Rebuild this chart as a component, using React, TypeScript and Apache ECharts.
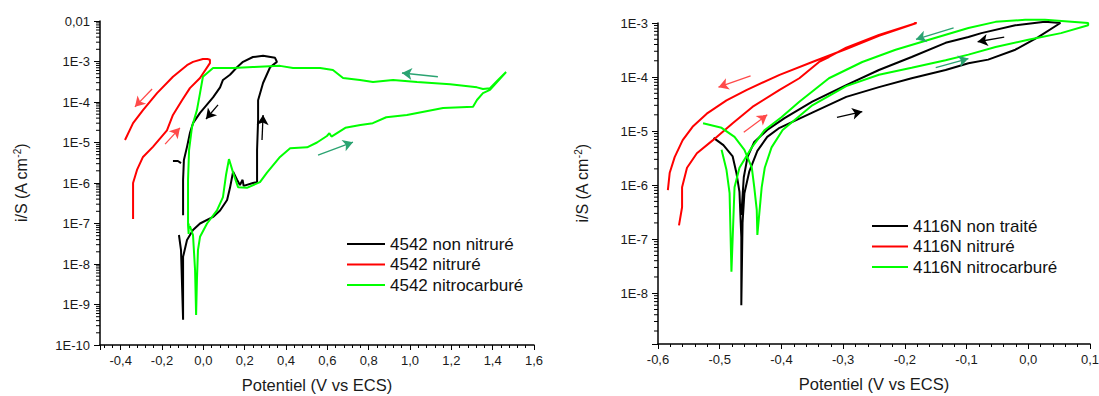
import React, { useEffect, useRef } from 'react';
import * as echarts from 'echarts';

// ---------- Left chart: 4542 ----------
const leftNames = ['4542 non nitruré', '4542 nitruré', '4542 nitrocarburé'];

const leftBlackForward = [
  [-0.118, 5.2e-8], [-0.108, 2.2e-8], [-0.103, 3.0e-9], [-0.098, 4.2e-10], [-0.098, 2.3e-9],
  [-0.098, 1.5e-8], [-0.079, 3.9e-8], [-0.05, 6.9e-8], [-0.016, 1.0e-7], [0.047, 1.45e-7],
  [0.081, 2.1e-7], [0.115, 3.8e-7], [0.129, 7.6e-7], [0.144, 1.9e-6], [0.163, 1.2e-6],
  [0.177, 8.9e-7], [0.19, 1.2e-6], [0.195, 8.5e-7], [0.24, 1.0e-6], [0.26, 1.05e-6],
  [0.26, 6.5e-6], [0.265, 3.6e-5], [0.265, 1.1e-4], [0.289, 2.95e-4], [0.323, 7.2e-4], [0.356, 9.8e-4],
];
const leftBlackReverse = [
  [0.347, 1.23e-3], [0.289, 1.38e-3], [0.24, 1.29e-3], [0.192, 9.8e-4], [0.163, 7.2e-4],
  [0.129, 4.7e-4], [0.095, 3.5e-4], [0.081, 2.3e-4], [0.047, 1.3e-4], [-0.016, 5.4e-5],
  [-0.05, 3.0e-5], [-0.065, 1.7e-5], [-0.079, 7.8e-6], [-0.094, 3.7e-6], [-0.098, 1.2e-6], [-0.098, 1.6e-7],
];
const leftBlackHook = [[-0.147, 3.5e-6], [-0.123, 3.5e-6], [-0.108, 3.1e-6]];

const leftRedForward = [
  [-0.34, 1.3e-7], [-0.34, 1.0e-6], [-0.321, 2.1e-6], [-0.292, 4.4e-6], [-0.244, 7.8e-6],
  [-0.176, 2.0e-5], [-0.147, 4.8e-5], [-0.103, 1.1e-4], [-0.065, 2.2e-4], [-0.016, 3.9e-4],
  [0.032, 9.1e-4], [0.032, 1.1e-3],
];
const leftRedReverse = [
  [0.02, 1.15e-3], [-0.002, 1.15e-3], [-0.05, 9.8e-4], [-0.079, 8.1e-4], [-0.147, 4.2e-4],
  [-0.224, 1.66e-4], [-0.292, 6.3e-5], [-0.34, 3.0e-5], [-0.379, 1.15e-5],
];

const leftGreenForward = [
  [-0.065, 8.7e-8], [-0.05, 5.2e-8], [-0.04, 7.1e-9], [-0.035, 5.5e-10], [-0.031, 4.0e-9],
  [-0.026, 2.2e-8], [-0.016, 4.7e-8], [0.018, 1.0e-7], [0.066, 2.1e-7], [0.095, 4.5e-7],
  [0.11, 1.6e-6], [0.124, 3.9e-6], [0.144, 1.8e-6], [0.168, 7.9e-7], [0.211, 7.6e-7],
  [0.274, 1.05e-6], [0.308, 1.8e-6], [0.371, 4.4e-6], [0.42, 7.2e-6], [0.502, 7.6e-6],
  [0.55, 1.0e-5], [0.598, 1.45e-5], [0.61, 1.7e-5], [0.62, 1.4e-5], [0.687, 2.3e-5],
  [0.76, 2.7e-5], [0.82, 3.0e-5], [0.885, 4.2e-5], [0.985, 4.8e-5], [1.16, 7.1e-5],
  [1.305, 7.6e-5], [1.324, 1.12e-4], [1.353, 1.66e-4], [1.387, 2.0e-4], [1.465, 5.5e-4],
];
const leftGreenReverse = [
  [1.426, 3.5e-4], [1.387, 2.2e-4], [1.353, 2.1e-4], [1.324, 2.3e-4], [1.194, 2.75e-4],
  [1.034, 3.1e-4], [0.918, 3.5e-4], [0.821, 3.1e-4], [0.758, 3.5e-4], [0.676, 3.9e-4],
  [0.627, 6.2e-4], [0.565, 6.9e-4], [0.434, 6.9e-4], [0.371, 7.8e-4], [0.24, 7.3e-4],
  [0.144, 6.9e-4], [0.047, 6.9e-4], [-0.002, 4.2e-4], [-0.016, 1.66e-4], [-0.031, 6.3e-5],
  [-0.055, 2.4e-5], [-0.069, 6.5e-6], [-0.074, 1.2e-6], [-0.074, 9.1e-8], [-0.071, 5.5e-8], [-0.071, 1.0e-7],
];

// arrows [tailV, tailI, headV, headI]
const leftRedArrows = [[-0.248, 2.1e-4, -0.331, 7.6e-5], [-0.185, 9.1e-6, -0.113, 2.3e-5]];
const leftBlackArrows = [[0.071, 8.5e-5, 0.013, 3.8e-5], [0.284, 1.15e-5, 0.289, 4.8e-5]];
const leftGreenArrows = [[1.135, 4.2e-4, 0.961, 5.2e-4], [0.555, 4.9e-6, 0.724, 1.02e-5]];

// ---------- Right chart: 4116N ----------
const rightNames = ['4116N non traité', '4116N nitruré', '4116N nitrocarburé'];

const rightBlackForward = [
  [-0.51, 7.5e-6], [-0.494, 5.5e-6], [-0.479, 3.4e-6], [-0.473, 1.7e-6], [-0.468, 7.5e-7],
  [-0.465, 1.1e-7], [-0.465, 6.0e-9], [-0.463, 2.0e-7], [-0.46, 7.1e-7], [-0.452, 1.8e-6],
  [-0.439, 4.3e-6], [-0.423, 7.8e-6], [-0.403, 1.15e-5], [-0.35, 2.2e-5], [-0.295, 4.3e-5],
  [-0.242, 6.5e-5], [-0.189, 9.5e-5], [-0.134, 1.35e-4], [-0.097, 1.8e-4], [-0.065, 2.1e-4],
  [-0.021, 3.2e-4], [0.016, 5.5e-4], [0.052, 1.0e-3],
];
const rightBlackReverse = [
  [0.027, 1.05e-3], [-0.021, 9.1e-4], [-0.076, 6.5e-4], [-0.097, 5.5e-4], [-0.134, 4.3e-4],
  [-0.189, 2.35e-4], [-0.242, 1.35e-4], [-0.295, 7.1e-5], [-0.35, 3.5e-5], [-0.395, 1.74e-5],
  [-0.423, 1.05e-5], [-0.444, 6.3e-6], [-0.455, 3.3e-6], [-0.461, 1.4e-6], [-0.465, 2.8e-7],
];

const rightRedForward = [
  [-0.566, 1.8e-7], [-0.561, 3.9e-7], [-0.561, 9.1e-7], [-0.553, 2.1e-6], [-0.537, 3.9e-6],
  [-0.511, 6.8e-6], [-0.479, 1.4e-5], [-0.447, 2.8e-5], [-0.403, 5.8e-5], [-0.371, 9.5e-5],
  [-0.339, 1.9e-4], [-0.323, 2.35e-4], [-0.295, 3.5e-4], [-0.242, 6.0e-4], [-0.181, 1.0e-3],
];
const rightRedReverse = [
  [-0.242, 5.8e-4], [-0.295, 3.3e-4], [-0.35, 1.9e-4], [-0.403, 1.1e-4], [-0.456, 5.8e-5],
  [-0.489, 3.7e-5], [-0.521, 2.1e-5], [-0.544, 1.2e-5], [-0.56, 6.8e-6], [-0.573, 3.3e-6],
  [-0.581, 1.7e-6], [-0.584, 8.1e-7],
];

const rightGreenForward = [
  [-0.527, 1.4e-5], [-0.497, 1.15e-5], [-0.476, 7.8e-6], [-0.46, 4.5e-6], [-0.448, 2.1e-6],
  [-0.444, 9.1e-7], [-0.44, 3.5e-7], [-0.439, 1.2e-7], [-0.432, 9.1e-7], [-0.427, 2.1e-6],
  [-0.416, 5.0e-6], [-0.398, 1.05e-5], [-0.35, 3.0e-5], [-0.295, 6.8e-5], [-0.242, 1.1e-4],
  [-0.189, 1.48e-4], [-0.134, 2.05e-4], [-0.097, 2.6e-4], [-0.053, 3.6e-4], [0.0, 4.9e-4],
  [0.053, 6.5e-4], [0.097, 9.1e-4],
];
const rightGreenReverse = [
  [0.097, 1.0e-3], [0.027, 1.15e-3], [-0.005, 1.15e-3], [-0.053, 1.05e-3], [-0.097, 8.1e-4],
  [-0.161, 4.9e-4], [-0.215, 3.2e-4], [-0.269, 1.9e-4], [-0.323, 9.5e-5], [-0.371, 3.5e-5],
  [-0.4, 1.8e-5], [-0.427, 1.05e-5], [-0.448, 5.0e-6], [-0.468, 2.1e-6], [-0.476, 9.1e-7],
  [-0.481, 2.5e-8], [-0.484, 7.1e-7], [-0.489, 1.9e-6], [-0.497, 4.5e-6],
];

const rightRedArrows = [[-0.45, 1.05e-4, -0.502, 6.5e-5], [-0.461, 9.5e-6, -0.423, 2.0e-5]];
const rightBlackArrows = [[-0.31, 1.8e-5, -0.269, 2.3e-5], [-0.039, 5.5e-4, -0.082, 4.5e-4]];
const rightGreenArrows = [[-0.121, 8.1e-4, -0.182, 5.0e-4], [-0.15, 1.5e-4, -0.097, 2.2e-4]];

// axis ranges / labels
const leftX = { min: -0.5, max: 1.6 };
const leftY = { min: 1e-10, max: 1e-2 };
const rightX = { min: -0.6, max: 0.1, interval: 0.1 };
const rightY = { min: 1.15e-9, max: 1e-3 };
const xTitle = 'Potentiel (V vs ECS)';

const FONT = 'Arial, "Liberation Sans", sans-serif';
const BLACK = '#000000';
const RED = '#ff0000';
const GREEN = '#00ff00';
const ARROW_RED = '#ff4a4a';
const ARROW_GREEN = '#2aa371';

function logMinorValues(min: number, max: number) {
  const out: number[] = [];
  const lo = Math.floor(Math.log10(min));
  const hi = Math.ceil(Math.log10(max));
  for (let n = lo; n < hi; n++) {
    for (let m = 2; m <= 9; m++) {
      const v = m * Math.pow(10, n);
      if (v >= min && v <= max) out.push(v);
    }
  }
  return out;
}

function minorTickSeries(idx: number, xv: number, values: number[]) {
  return {
    type: 'custom',
    xAxisIndex: idx,
    yAxisIndex: idx,
    silent: true,
    clip: false,
    z: 10,
    data: values.map((v) => [xv, v]),
    renderItem: (_p: any, api: any) => {
      const pt = api.coord([api.value(0), api.value(1)]);
      return {
        type: 'line',
        shape: { x1: pt[0] - 4, y1: pt[1], x2: pt[0], y2: pt[1] },
        style: { stroke: '#000', lineWidth: 1 },
      };
    },
  };
}

function arrowLines(arr: number[][]) {
  return arr.map((a) => [{ coord: [a[0], a[1]] }, { coord: [a[2], a[3]] }]);
}

function curve(name: string, idx: number, color: string, data: number[][], arrows?: number[][], arrowColor?: string) {
  const s: any = {
    name,
    type: 'line',
    xAxisIndex: idx,
    yAxisIndex: idx,
    data,
    showSymbol: false,
    symbol: 'none',
    clip: false,
    lineStyle: { color, width: 2 },
    itemStyle: { color },
    z: 3,
  };
  if (arrows) {
    s.markLine = {
      silent: true,
      symbol: ['none', 'arrow'],
      symbolSize: [9, 10],
      label: { show: false },
      lineStyle: { color: arrowColor, width: 1.3, type: 'solid' },
      data: arrowLines(arrows),
    };
  }
  return s;
}

function xLabel(v: number, step: number) {
  const k = v / step;
  if (Math.abs(k - Math.round(k)) > 1e-6) return '';
  if (Math.abs(v) < 1e-9) return '0,0';
  return v.toFixed(1).replace('.', ',');
}

function yLabel(v: number) {
  const l = Math.log10(v);
  const r = Math.round(l);
  if (Math.abs(l - r) > 1e-6) return '';
  if (r === -2) return '0,01';
  return '1E' + r;
}

const axisLine = { show: true, onZero: false, lineStyle: { color: '#000', width: 1.5 } };
const labelStyle = { color: '#1a1a1a', fontSize: 13, fontFamily: FONT };
const yName = '{a|i/S (A cm}{s|-2}{a|)}';
const yNameStyle = {
  rich: {
    a: { fontSize: 16, fontFamily: FONT, color: '#1a1a1a', lineHeight: 19 },
    s: { fontSize: 10, fontFamily: FONT, color: '#1a1a1a', verticalAlign: 'top', lineHeight: 19 },
  },
};
const legendText = { fontSize: 17, fontFamily: FONT, color: '#111', lineHeight: 20 };

export default function App() {
  const ref = useRef<HTMLDivElement>(null);
  useEffect(() => {
    if (!ref.current) return;
    const chart = echarts.init(ref.current, null, { renderer: 'svg' });
    const option: any = {
      animation: false,
      backgroundColor: '#ffffff',
      textStyle: { fontFamily: FONT },
      grid: [
        { left: 100, top: 21, width: 434, height: 324, show: false, outerBoundsMode: 'none' },
        { left: 658, top: 23, width: 432, height: 321, show: false, outerBoundsMode: 'none' },
      ],
      legend: [
        {
          data: leftNames,
          orient: 'vertical',
          left: 342,
          top: 229,
          itemWidth: 38,
          itemHeight: 2,
          itemGap: 0.5,
          icon: 'rect',
          selectedMode: false,
          textStyle: legendText,
        },
        {
          data: rightNames,
          orient: 'vertical',
          left: 867,
          top: 211,
          itemWidth: 36,
          itemHeight: 2,
          itemGap: 0.5,
          icon: 'rect',
          selectedMode: false,
          textStyle: legendText,
        },
      ],
      xAxis: [
        {
          type: 'value',
          gridIndex: 0,
          min: leftX.min,
          max: leftX.max,
          splitNumber: 10,
          axisLine,
          axisTick: { show: true, inside: false, length: 5, lineStyle: { color: '#000' } },
          minorTick: { show: true, splitNumber: 5, length: 3, lineStyle: { color: '#000' } },
          splitLine: { show: false },
          axisLabel: { ...labelStyle, margin: 9, formatter: (v: number) => xLabel(v, 0.2) },
          name: xTitle,
          nameLocation: 'middle',
          nameGap: 31,
          nameTextStyle: { fontSize: 16.5, fontFamily: FONT, color: '#1a1a1a' },
        },
        {
          type: 'value',
          gridIndex: 1,
          min: rightX.min,
          max: rightX.max,
          interval: rightX.interval,
          axisLine,
          axisTick: { show: true, inside: false, length: 5, lineStyle: { color: '#000' } },
          minorTick: { show: true, splitNumber: 5, length: 3, lineStyle: { color: '#000' } },
          splitLine: { show: false },
          axisLabel: { ...labelStyle, margin: 9, formatter: (v: number) => xLabel(v, 0.1) },
          name: xTitle,
          nameLocation: 'middle',
          nameGap: 31,
          nameTextStyle: { fontSize: 16.5, fontFamily: FONT, color: '#1a1a1a' },
        },
      ],
      yAxis: [
        {
          type: 'log',
          gridIndex: 0,
          logBase: 10,
          min: leftY.min,
          max: leftY.max,
          splitNumber: 8,
          axisLine,
          axisTick: { show: true, inside: false, length: 6, lineStyle: { color: '#000' } },
          splitLine: { show: false },
          axisLabel: { ...labelStyle, margin: 10, formatter: yLabel },
          name: yName,
          nameLocation: 'middle',
          nameRotate: 90,
          nameGap: 69,
          nameTextStyle: yNameStyle,
        },
        {
          type: 'log',
          gridIndex: 1,
          logBase: 10,
          min: rightY.min,
          max: rightY.max,
          splitNumber: 6,
          axisLine,
          axisTick: { show: true, inside: false, length: 6, lineStyle: { color: '#000' } },
          splitLine: { show: false },
          axisLabel: { ...labelStyle, margin: 10, formatter: yLabel },
          name: yName,
          nameLocation: 'middle',
          nameRotate: 90,
          nameGap: 66,
          nameTextStyle: yNameStyle,
        },
      ],
      series: [
        curve(leftNames[0], 0, BLACK, [...leftBlackForward, ...leftBlackReverse], leftBlackArrows, BLACK),
        curve(leftNames[0], 0, BLACK, leftBlackHook),
        curve(leftNames[1], 0, RED, [...leftRedForward, ...leftRedReverse], leftRedArrows, ARROW_RED),
        curve(leftNames[2], 0, GREEN, [...leftGreenForward, ...leftGreenReverse], leftGreenArrows, ARROW_GREEN),
        curve(rightNames[0], 1, BLACK, [...rightBlackForward, ...rightBlackReverse], rightBlackArrows, BLACK),
        curve(rightNames[1], 1, RED, [...rightRedForward, ...rightRedReverse], rightRedArrows, ARROW_RED),
        curve(rightNames[2], 1, GREEN, [...rightGreenForward, ...rightGreenReverse], rightGreenArrows, ARROW_GREEN),
        minorTickSeries(0, leftX.min, logMinorValues(leftY.min, leftY.max)),
        minorTickSeries(1, rightX.min, logMinorValues(rightY.min, rightY.max)),
      ],
    };
    chart.setOption(option);
    return () => chart.dispose();
  }, []);
  return (
    <div
      ref={ref}
      style={{ position: 'fixed', left: 0, top: 0, width: 1099, height: 396, background: '#fff' }}
    />
  );
}
